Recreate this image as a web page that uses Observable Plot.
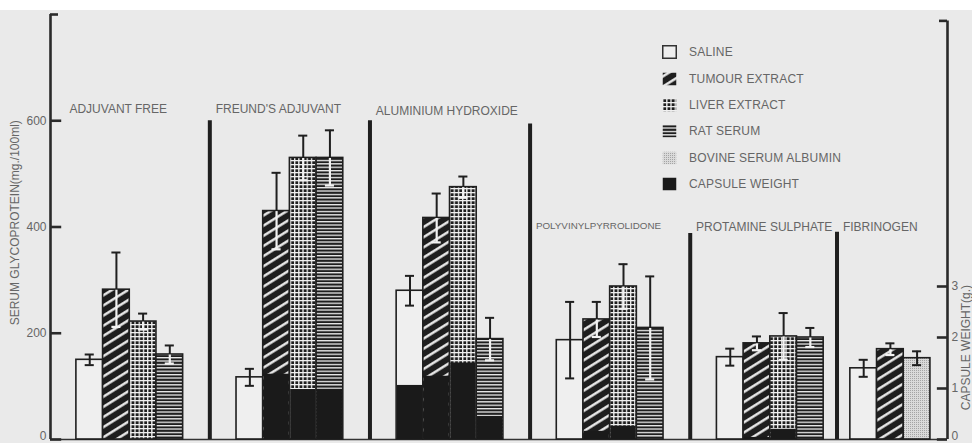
<!DOCTYPE html>
<html>
<head>
<meta charset="utf-8">
<script src="https://cdn.jsdelivr.net/npm/d3@7"></script>
<script src="https://cdn.jsdelivr.net/npm/@observablehq/plot@0.6"></script>
<style>
html,body{margin:0;padding:0;}
body{width:972px;height:443px;overflow:hidden;background:linear-gradient(#fff 0,#fff 10px,#eaeaea 10px);font-family:"Liberation Sans",Arial,sans-serif;}
#wrap{position:relative;width:972px;height:443px;}
#chart{position:absolute;left:0;top:0;}
#legend{position:absolute;left:662px;top:39px;}
.row{display:flex;align-items:center;height:26.4px;color:#666;font-size:12px;white-space:nowrap;letter-spacing:0.2px;}
.row svg{margin-right:12px;display:block;}
</style>
</head>
<body>
<svg width="0" height="0" style="position:absolute">
<defs>
  <pattern id="p-tumour" patternUnits="userSpaceOnUse" width="9" height="8.6" patternTransform="rotate(-32)">
    <rect width="9" height="8.6" fill="#1e1e1e"/>
    <rect y="3" width="9" height="2.4" fill="#f0f0f0"/>
  </pattern>
  <pattern id="p-liver" patternUnits="userSpaceOnUse" width="4.2" height="4">
    <rect width="4.2" height="4" fill="#f0f0f0"/>
    <rect x="1.3" y="1.3" width="2.9" height="2.7" fill="#1e1e1e"/>
  </pattern>
  <pattern id="p-rat" patternUnits="userSpaceOnUse" width="4" height="3.4">
    <rect width="4" height="3.4" fill="#1e1e1e"/>
    <rect y="0" width="4" height="1.3" fill="#eeeeee"/>
  </pattern>
  <pattern id="p-bsa" patternUnits="userSpaceOnUse" width="2" height="2">
    <rect width="2" height="2" fill="#dadada"/>
    <rect width="1" height="1" fill="#a4a4a4"/>
  </pattern>
</defs>
</svg>
<div id="wrap"><div id="chart"></div><div id="legend"></div></div>
<script>
// ---------------- data ----------------
const groups = ["ADJUVANT FREE", "FREUND'S ADJUVANT", "ALUMINIUM HYDROXIDE", "POLYVINYLPYRROLIDONE", "PROTAMINE SULPHATE", "FIBRINOGEN"];
const treatments = ["SALINE", "TUMOUR EXTRACT", "LIVER EXTRACT", "RAT SERUM", "BOVINE SERUM ALBUMIN"];
const capsuleLabel = "CAPSULE WEIGHT";
// which treatments appear in each group (indices into treatments)
const groupTreatments = [[0,1,2,3],[0,1,2,3],[0,1,2,3],[0,1,2,3],[0,1,2,3],[0,1,4]];
// serum glycoprotein, mg/100ml
const glycoprotein = [
  [150, 282, 222, 160],
  [117, 430, 530, 530],
  [280, 417, 475, 189],
  [187, 226, 288, 210],
  [155, 181, 194, 192],
  [134, 170, 153]
];
// error (± mg/100ml)
const errors = [
  [10, 70, 15, 17],
  [16, 72, 42, 52],
  [28, 46, 20, 40],
  [72, 33, 42, 97],
  [16, 13, 44, 18],
  [16, 11, 13]
];
// capsule weight, g
const capsuleWeight = [
  [0, 0, 0, 0],
  [0, 1.28, 0.98, 0.98],
  [1.06, 1.24, 1.5, 0.45],
  [0, 0.16, 0.26, 0],
  [0, 0.04, 0.2, 0],
  [0, 0, 0]
];
// divider heights after each group (mg/100ml units)
const dividerTops = [600, 600, 594, 388, 390];
const leftTicks = [0, 200, 400, 600];
const rightTicks = [0, 1, 2, 3];
const yTitle = "SERUM GLYCOPROTEIN(mg./100ml)";
const y2Title = "CAPSULE WEIGHT(g.)";

// ---------------- layout ----------------
const unitsPerGram = 96;            // right axis: 1 g on the left scale
const groupGapAfter = [2, 2, 2, 2, 1];
const labelLevel = [622, 622, 619, 402, 399, 399];
const fills = ["#efefef", "url(#p-tumour)", "url(#p-liver)", "url(#p-rat)", "url(#p-bsa)"];
const dark = "#1f1f1f";
const xMin = -0.97, xMax = 32.64;

const starts = [];
let s = 0;
groups.forEach((g, i) => { starts.push(s); s += groupTreatments[i].length + (groupGapAfter[i] || 0); });
const dividers = dividerTops.map((top, i) => ({x: starts[i] + groupTreatments[i].length + groupGapAfter[i] / 2, top}));
const labels = groups.map((g, i) => ({text: g, x: i === 0 ? starts[0] - 0.26 : dividers[i - 1].x + 0.22, y: labelLevel[i], size: g.length > 19 ? 9.8 : 12}));

const bars = [];
groups.forEach((g, gi) => groupTreatments[gi].forEach((t, j) => bars.push({
  group: g, t, treatment: treatments[t], slot: starts[gi] + j,
  value: glycoprotein[gi][j], err: errors[gi][j], capsule: capsuleWeight[gi][j]
})));
const lightBar = d => d.t === 0 || d.t === 4;
const rightTickValues = rightTicks.map(g => g * unitsPerGram);
const gramFormat = d => String(Math.round(d / unitsPerGram));

const marks = [
  Plot.ruleY([0], {x1: xMin, x2: xMax, stroke: "#333", strokeWidth: 1.6}),
  ...treatments.map((name, t) => Plot.rect(bars.filter(d => d.t === t), {
    x1: "slot", x2: d => d.slot + 1, y1: 0, y2: "value",
    fill: fills[t], stroke: dark, strokeWidth: 1.6
  })),
  Plot.rect(bars.filter(d => d.capsule > 0), {
    x1: d => d.slot + 0.03, x2: d => d.slot + 0.97, y1: 0, y2: d => d.capsule * unitsPerGram,
    fill: "#1a1a1a"
  }),
  // error bars: upper part (dark)
  Plot.ruleX(bars, {x: d => d.slot + 0.5, y1: "value", y2: d => d.value + d.err, stroke: dark, strokeWidth: 2}),
  Plot.ruleY(bars, {y: d => d.value + d.err, x1: d => d.slot + 0.33, x2: d => d.slot + 0.67, stroke: dark, strokeWidth: 2}),
  // lower part (inside bar)
  Plot.ruleX(bars.filter(lightBar), {x: d => d.slot + 0.5, y1: d => d.value - d.err, y2: "value", stroke: dark, strokeWidth: 2}),
  Plot.ruleY(bars.filter(lightBar), {y: d => d.value - d.err, x1: d => d.slot + 0.33, x2: d => d.slot + 0.67, stroke: dark, strokeWidth: 2}),
  Plot.ruleX(bars.filter(d => !lightBar(d)), {x: d => d.slot + 0.5, y1: d => d.value - d.err, y2: d => d.value - 1, stroke: "#f2f2f2", strokeWidth: 2.2}),
  Plot.ruleY(bars.filter(d => !lightBar(d)), {y: d => d.value - d.err, x1: d => d.slot + 0.33, x2: d => d.slot + 0.67, stroke: "#f2f2f2", strokeWidth: 2.2}),
  // group dividers
  Plot.ruleX(dividers, {x: "x", y1: 0, y2: "top", stroke: dark, strokeWidth: 4}),
  // group labels
  ...labels.map(l => Plot.text([l], {x: "x", y: "y", text: "text", textAnchor: "start", fontSize: l.size, fill: "#666"})),
  // left axis
  Plot.ruleX([xMin], {y1: 0, y2: 800, stroke: "#2a2a2a", strokeWidth: 2.6}),
  Plot.ruleY([800], {x1: xMin, x2: xMin + 0.3, stroke: "#2a2a2a", strokeWidth: 2.6}),
  Plot.ruleY(leftTicks, {x1: xMin, x2: xMin + 0.42, stroke: "#2a2a2a", strokeWidth: 2.6}),
  Plot.axisY(leftTicks.filter(d => d !== 0), {anchor: "left", tickSize: 0, tickPadding: 4, label: null, fontSize: 12}),
  Plot.axisY(leftTicks.filter(d => d === 0), {anchor: "left", tickSize: 0, tickPadding: 4, label: null, fontSize: 12, dy: -3}),
  Plot.text([yTitle], {x: xMin, y: 408, dx: -35, rotate: -90, fontSize: 12, fill: "#666"}),
  // right axis
  Plot.ruleX([xMax], {y1: 0, y2: 788, stroke: "#2a2a2a", strokeWidth: 2.6}),
  Plot.ruleY([788], {x1: xMax - 0.3, x2: xMax, stroke: "#2a2a2a", strokeWidth: 2.6}),
  Plot.ruleY(rightTickValues, {x1: xMax - 0.38, x2: xMax, stroke: "#2a2a2a", strokeWidth: 2.6}),
  Plot.axisY(rightTickValues.filter(d => d !== 0), {anchor: "right", tickSize: 0, tickPadding: 4, label: null, fontSize: 12, tickFormat: gramFormat}),
  Plot.axisY(rightTickValues.filter(d => d === 0), {anchor: "right", tickSize: 0, tickPadding: 4, label: null, fontSize: 12, tickFormat: gramFormat, dy: -3}),
  Plot.text([y2Title], {x: xMax, y: 173, dx: 19, rotate: -90, fontSize: 12, fill: "#666"})
];

const chart = Plot.plot({
  width: 972, height: 443,
  marginLeft: 50, marginRight: 25, marginTop: 14, marginBottom: 4,
  x: {domain: [xMin, xMax], axis: null},
  y: {domain: [0, 800], axis: null, label: null},
  style: {background: "transparent", color: "#666", fontFamily: "'Liberation Sans', Arial, sans-serif", fontSize: "12px", overflow: "visible"},
  marks
});
document.getElementById("chart").appendChild(chart);

// legend
const legendItems = treatments.map((name, t) => ({name, fill: fills[t], stroke: t === 0 ? "#333" : "none"}))
  .concat([{name: capsuleLabel, fill: "#1a1a1a", stroke: "none"}]);
const legend = d3.select("#legend");
legendItems.forEach(it => {
  const row = legend.append("div").attr("class", "row");
  const sw = row.append("svg").attr("width", 15).attr("height", 14);
  sw.append("rect").attr("x", 0.75).attr("y", 0.75).attr("width", 13.5).attr("height", 12.5)
    .attr("fill", it.fill).attr("stroke", it.stroke).attr("stroke-width", 1.5);
  row.append("span").text(it.name);
});
</script>
</body>
</html>
